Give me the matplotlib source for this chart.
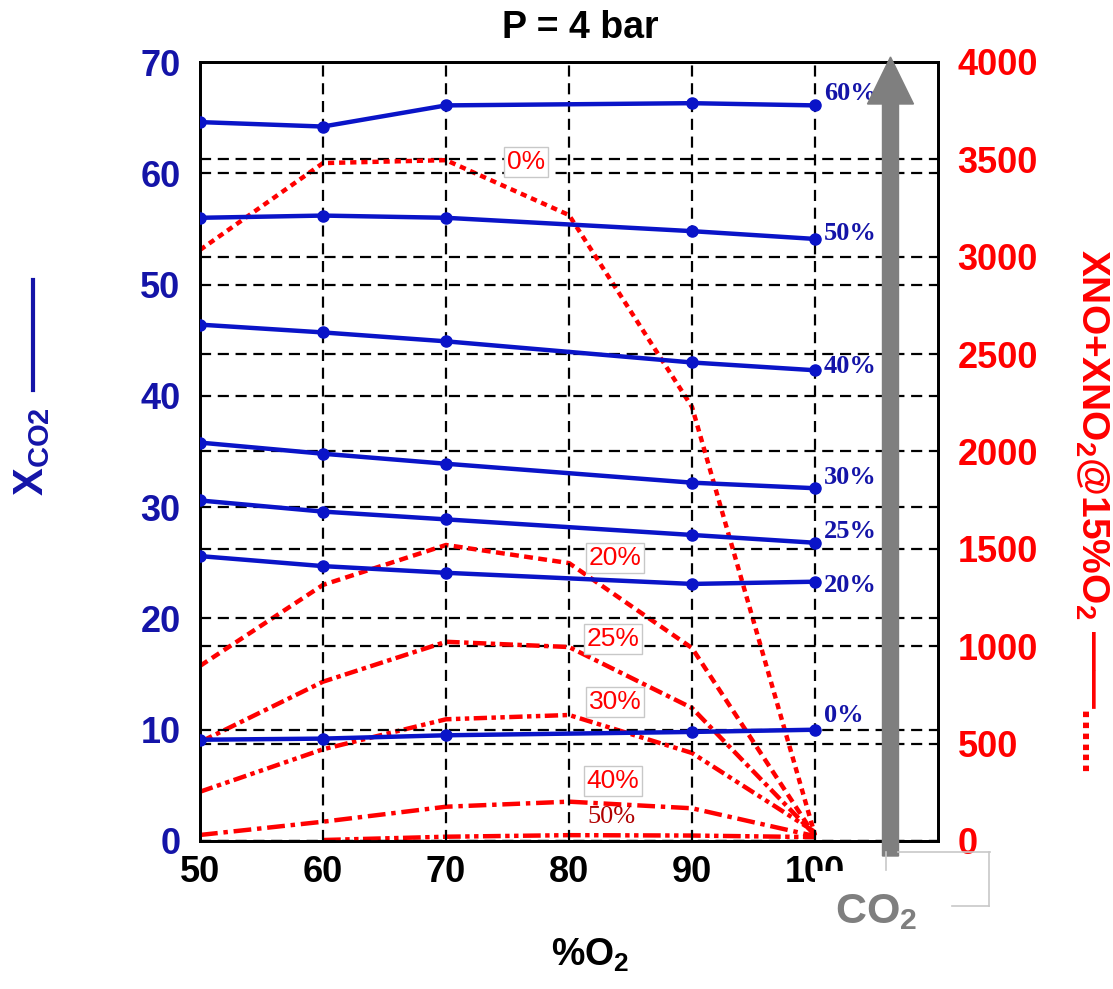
import matplotlib
matplotlib.use("Agg")
import matplotlib.pyplot as plt
from matplotlib.lines import Line2D
from matplotlib.patches import Rectangle, FancyArrow
from matplotlib.transforms import IdentityTransform

plt.rcParams['font.family'] = ['Liberation Sans', 'DejaVu Sans']
plt.rcParams['mathtext.fontset'] = 'custom'
plt.rcParams['mathtext.rm'] = 'Liberation Sans:bold'
plt.rcParams['mathtext.bf'] = 'Liberation Sans:bold'
plt.rcParams['mathtext.default'] = 'bf'

# ---------------- data ----------------
x_ticks = [50, 60, 70, 80, 90, 100]
y_left_ticks = [0, 10, 20, 30, 40, 50, 60, 70]
y_right_ticks = [0, 500, 1000, 1500, 2000, 2500, 3000, 3500, 4000]

# X_CO2 (left axis), measured at %O2:
x_co2 = [50, 60, 70, 90, 100]
co2_0 = [9.1, 9.2, 9.5, 9.8, 10.0]
co2_20 = [25.6, 24.7, 24.1, 23.1, 23.3]
co2_25 = [30.6, 29.6, 28.9, 27.5, 26.8]
co2_30 = [35.8, 34.8, 33.9, 32.2, 31.7]
co2_40 = [46.4, 45.7, 44.9, 43.0, 42.3]
co2_50 = [56.0, 56.2, 56.0, 54.8, 54.1]
co2_60 = [64.6, 64.2, 66.1, 66.3, 66.1]
co2_labels = ["0%", "20%", "25%", "30%", "40%", "50%", "60%"]

# XNO + XNO2 @ 15% O2 (right axis)
x_nox = [50, 60, 70, 80, 90, 100]
nox_0 = [3035, 3481, 3496, 3214, 2229, 30]
nox_20 = [899, 1315, 1520, 1427, 991, 25]
nox_25 = [508, 818, 1023, 996, 683, 30]
nox_30 = [253, 471, 625, 647, 452, 46]
nox_40 = [31, 99, 176, 202, 168, 25]
x_nox_50 = [60, 70, 80, 90, 100]
nox_50 = [5, 22, 30, 28, 20]
nox_labels = ["0%", "20%", "25%", "30%", "40%", "50%"]

# ---------------- figure ----------------
W, H = 1113, 989
fig = plt.figure(figsize=(W / 100, H / 100), dpi=100)


def fx(px):
    return px / W


def fy(py):
    return 1 - py / H


ax = fig.add_axes([fx(200), fy(841), (938 - 200) / W, (841 - 62) / H])
ax2 = ax.twinx()
ax.set_zorder(ax2.get_zorder() + 1)
ax.patch.set_visible(False)

BLUE = '#0a14c8'
BLUE_TXT = '#1414a8'
RED = '#ff0000'

ax.set_xlim(50, 110)
ax.set_ylim(0, 70)
ax2.set_ylim(0, 4000)

grid_kw = dict(color='black', linestyle=(0, (5, 3)), linewidth=1.6)
ax.set_xticks(x_ticks, labels=[str(v) for v in x_ticks], fontweight='bold', fontsize=26)
ax.set_yticks(y_left_ticks, labels=[str(v) for v in y_left_ticks], fontweight='bold',
              fontsize=26, color=BLUE_TXT)
ax2.set_yticks(y_right_ticks, labels=[str(v) for v in y_right_ticks], fontweight='bold',
               fontsize=26, color=RED)
ax.grid(True, axis='both', **grid_kw)
ax2.grid(True, axis='y', **grid_kw)
ax.tick_params(axis='x', length=0, pad=10)
ax.tick_params(axis='y', length=0, pad=14)
ax2.tick_params(axis='y', length=0, pad=14)
for a in (ax, ax2):
    for s in a.spines.values():
        s.set_linewidth(2)
        s.set_color('black')

# blue solid lines
for ys in [co2_0, co2_20, co2_25, co2_30, co2_40, co2_50, co2_60]:
    ax.plot(x_co2, ys, color=BLUE, lw=3.2, marker='o', ms=8, mec=BLUE, mfc=BLUE,
            solid_capstyle='round', zorder=3)

# red dashed lines
styles = [(0, (1.4, 1.1)), (0, (2.0, 1.2)), (0, (3, 1, 1, 1)),
          (0, (3, 1, 1, 1, 1, 1)), (0, (4, 1.3, 1, 1.3)), (0, (4, 1, 1, 1, 1, 1))]
series = [(x_nox, nox_0), (x_nox, nox_20), (x_nox, nox_25), (x_nox, nox_30),
          (x_nox, nox_40), (x_nox_50, nox_50)]
for (xs, ys), ls in zip(series, styles):
    ax2.plot(xs, ys, color=RED, lw=3.2, linestyle=ls, zorder=3)

# blue end labels
blue_label_y = [716, 586, 532, 477, 366, 234, 94]
for lab, yp in zip(co2_labels, blue_label_y):
    fig.text(fx(824), fy(yp), lab, ha='left', va='center', fontsize=19,
             fontweight='bold', family='Liberation Serif', color=BLUE_TXT)

# red boxed labels
red_label_pos = [(526, 162), (615, 558), (613, 639), (615, 702), (613, 781)]
for lab, (xp, yp) in zip(nox_labels[:5], red_label_pos):
    fig.text(fx(xp), fy(yp), lab, ha='center', va='center', fontsize=19, color=RED,
             bbox=dict(boxstyle='square,pad=0.1', fc='white', ec='#c8c8c8', lw=1))
fig.text(fx(611), fy(817), nox_labels[5], ha='center', va='center', fontsize=19,
         family='Liberation Serif', color='#b00000')

# title and axis labels
fig.text(fx(580), fy(28), "P = 4 bar", ha='center', va='center', fontsize=27,
         fontweight='bold', color='black')
fig.text(fx(590), fy(955), "%O$_2$", ha='center', va='center', fontsize=27,
         fontweight='bold', color='black')
fig.text(fx(32), fy(452), r"X$_{CO2}$", ha='center', va='center', rotation=90,
         fontsize=30, fontweight='bold', color=BLUE_TXT)
fig.add_artist(Line2D([fx(33), fx(33)], [fy(280), fy(390)], color=BLUE_TXT, lw=3))
fig.text(fx(1092), fy(510), "XNO+XNO$_2$@15%O$_2$ \u2014\u2014......",
         ha='center', va='center', rotation=-90, fontsize=28, fontweight='bold',
         color=RED)

# CO2 arrow
arrow = FancyArrow(890.5, H - 856, 0, 856 - 57, width=16, head_width=46,
                   head_length=47, length_includes_head=True, color='#7f7f7f',
                   transform=IdentityTransform(), zorder=5)
fig.add_artist(arrow)

# white overlay box with partial light outline
fig.add_artist(Rectangle((fx(815), fy(906)), fx(990) - fx(815), fy(871) - fy(906),
                         transform=fig.transFigure, fc='white', ec='none', zorder=6))
gray = '#c8c8c8'
for (x0, y0, x1, y1) in [(898, 852, 990, 852), (989, 852, 989, 906),
                         (952, 906, 989, 906), (886, 852, 886, 870)]:
    fig.add_artist(Line2D([fx(x0), fx(x1)], [fy(y0), fy(y1)], color=gray, lw=1.2,
                          zorder=7))

fig.text(fx(835), fy(912), "CO$_2$", ha='left', va='center', fontsize=31,
         fontweight='bold', color='#7f7f7f', zorder=9)

fig.savefig("out.png", dpi=100)
